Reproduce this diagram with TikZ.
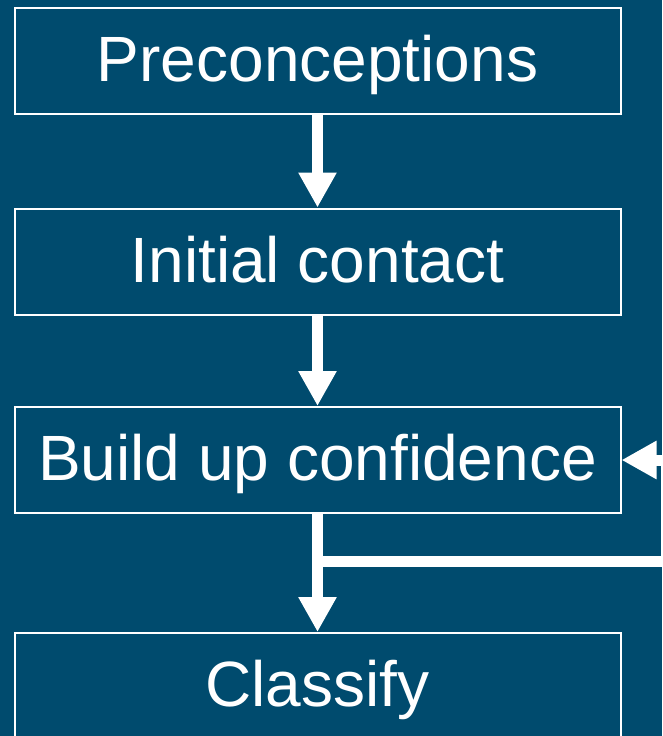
\documentclass[tikz,border=0pt]{standalone}
\usepackage{fontspec}
\setmainfont{Liberation Sans}
\usepackage{tikz}
\usetikzlibrary{arrows.meta, positioning}

\definecolor{bgblue}{HTML}{004B6E}

\tikzset{
    stepbox/.style = {draw=white, line width=2pt, minimum width=606pt, minimum height=106pt,
        inner sep=0pt, text=white, font=\fontsize{64}{77}\selectfont,
        text height=46pt, text depth=4.5pt},
    flow/.style = {white, line width=11pt},
    flowarrow/.style = {flow, -{Triangle[length=35pt,width=36pt]}}
}

\begin{document}
\begin{tikzpicture}[x=1pt, y=-1pt]
    \fill[bgblue] (0,0) rectangle (662,736);
    \useasboundingbox (0,0) rectangle (662,736);

    \node (pre) [stepbox] at (317.5,61) {Preconceptions};
    \node (init) [stepbox] at (317.5,261.5) {Initial contact};
    \node (build) [stepbox] at (317.5,460) {Build up confidence};
    \node (classify) [stepbox] at (317.5,686) {Classify};

    \coordinate (split) at (317.5,561);
    \coordinate (loopa) at (666,561);
    \coordinate (loopb) at (666,460);

\path [flowarrow]
    (pre) edge (init)
    (init) edge (build)
    (build) edge (classify);

    \draw [flow, line join=miter] (split) -- (loopa) -- (loopb);
    \draw [flowarrow] (loopb) -- (build.east);

\end{tikzpicture}
\end{document}
